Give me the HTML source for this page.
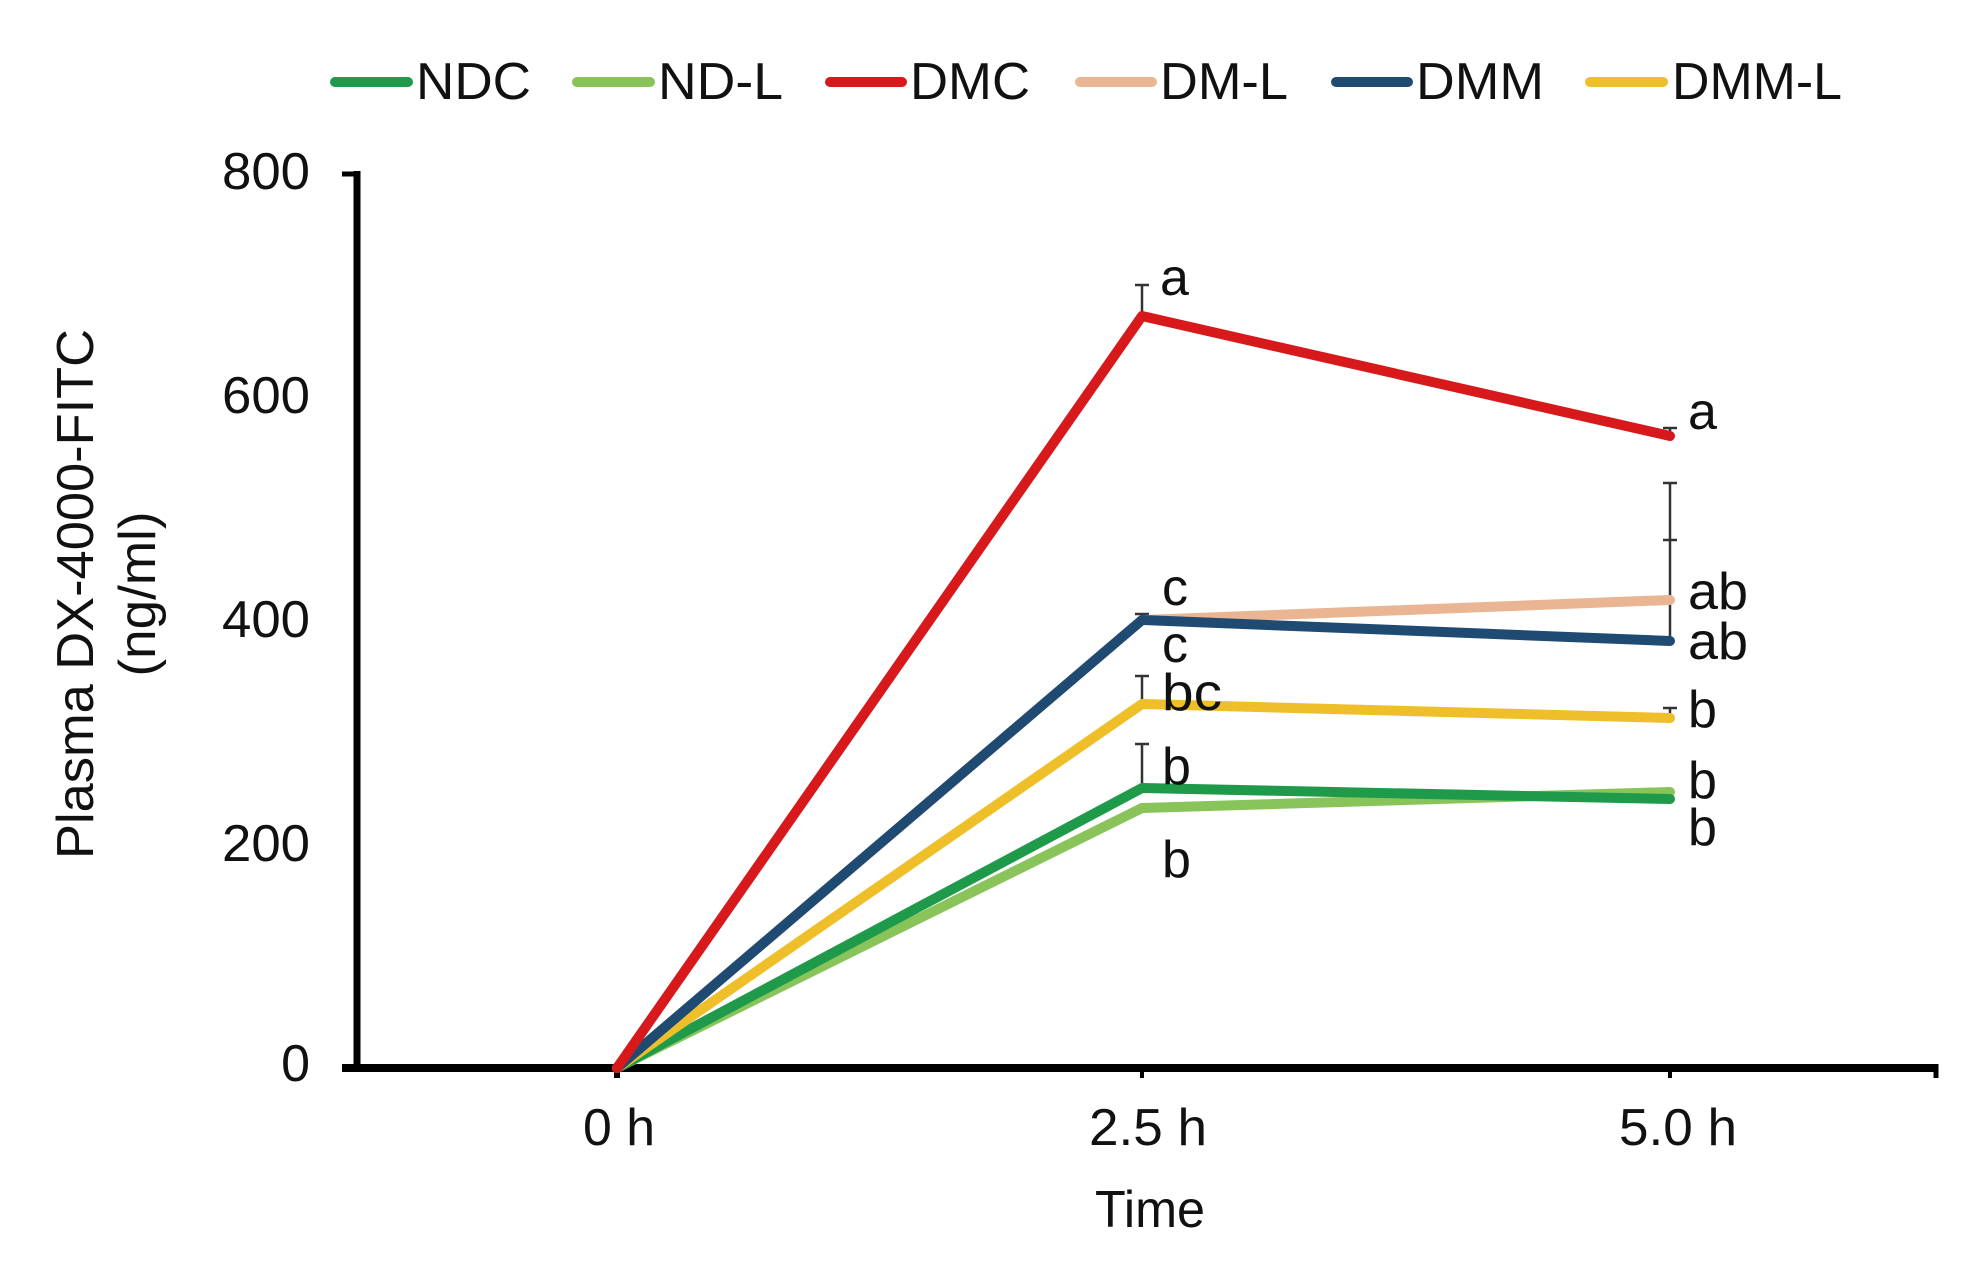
<!DOCTYPE html>
<html><head><meta charset="utf-8"><style>
html,body{margin:0;padding:0;background:#fff;}
svg{display:block;}
text{font-family:"Liberation Sans",Arial,sans-serif;fill:#111;}
</style></head><body>
<svg width="1980" height="1276" viewBox="0 0 1980 1276">
<!-- legend -->
<g stroke-width="10" stroke-linecap="round">
<line x1="335" y1="82" x2="408" y2="82" stroke="#1e9a4a"/>
<line x1="577" y1="82" x2="650" y2="82" stroke="#88c45a"/>
<line x1="830" y1="82" x2="902" y2="82" stroke="#d7191c"/>
<line x1="1080" y1="82" x2="1152" y2="82" stroke="#eab592"/>
<line x1="1336" y1="82" x2="1408" y2="82" stroke="#1f4a72"/>
<line x1="1590" y1="82" x2="1663" y2="82" stroke="#efbf2a"/>
</g>
<g font-size="52" dominant-baseline="central">
<text x="416" y="82" textLength="115" lengthAdjust="spacingAndGlyphs">NDC</text>
<text x="658" y="82" textLength="125" lengthAdjust="spacingAndGlyphs">ND-L</text>
<text x="910" y="82" textLength="120" lengthAdjust="spacingAndGlyphs">DMC</text>
<text x="1160" y="82" textLength="128" lengthAdjust="spacingAndGlyphs">DM-L</text>
<text x="1416" y="82" textLength="128" lengthAdjust="spacingAndGlyphs">DMM</text>
<text x="1672" y="82" textLength="170" lengthAdjust="spacingAndGlyphs">DMM-L</text>
</g>
<!-- axes -->
<g stroke="#000" fill="none">
<line x1="357" y1="171" x2="357" y2="1072" stroke-width="7"/>
<line x1="342" y1="174" x2="360" y2="174" stroke-width="5"/>
<line x1="342" y1="1068" x2="1936" y2="1068" stroke-width="8"/>
<line x1="617" y1="1068" x2="617" y2="1078" stroke-width="6"/>
<line x1="1142" y1="1068" x2="1142" y2="1078" stroke-width="4"/>
<line x1="1670" y1="1068" x2="1670" y2="1078" stroke-width="4"/>
<line x1="1936" y1="1064" x2="1936" y2="1078" stroke-width="5"/>
</g>
<g font-size="52" text-anchor="end" dominant-baseline="central">
<text x="310" y="172" textLength="88" lengthAdjust="spacingAndGlyphs">800</text>
<text x="310" y="396" textLength="88" lengthAdjust="spacingAndGlyphs">600</text>
<text x="310" y="620" textLength="88" lengthAdjust="spacingAndGlyphs">400</text>
<text x="310" y="844" textLength="88" lengthAdjust="spacingAndGlyphs">200</text>
<text x="310" y="1064">0</text>
</g>
<g font-size="52" text-anchor="middle" dominant-baseline="central">
<text x="619" y="1128" textLength="72" lengthAdjust="spacingAndGlyphs">0 h</text>
<text x="1148" y="1128" textLength="118" lengthAdjust="spacingAndGlyphs">2.5 h</text>
<text x="1678" y="1128" textLength="118" lengthAdjust="spacingAndGlyphs">5.0 h</text>
<text x="1150" y="1210" textLength="110" lengthAdjust="spacingAndGlyphs">Time</text>
<text transform="translate(76,594) rotate(-90)" textLength="530" lengthAdjust="spacingAndGlyphs">Plasma DX-4000-FITC</text>
<text transform="translate(138,594) rotate(-90)" textLength="165" lengthAdjust="spacingAndGlyphs">(ng/ml)</text>
</g>
<!-- error bars -->
<g stroke="#333" stroke-width="2.5" fill="none">
<path d="M1142 316V285M1135 285H1149"/>
<path d="M1670 436V428M1663 428H1677"/>
<path d="M1670 641V483M1663 483H1677M1663 540H1677"/>
<path d="M1142 704V676M1135 676H1149"/>
<path d="M1670 718V708M1663 708H1677"/>
<path d="M1142 788V744M1135 744H1149"/>
<path d="M1142 620V614M1135 614H1149"/>
</g>
<!-- series -->
<g fill="none" stroke-width="10" stroke-linejoin="round" stroke-linecap="round">
<polyline points="617,1068 1142,808 1670,792" stroke="#88c45a"/>
<polyline points="617,1068 1142,788 1670,799" stroke="#1e9a4a"/>
<polyline points="617,1068 1142,704 1670,718" stroke="#efbf2a"/>
<polyline points="617,1068 1142,620 1670,600" stroke="#eab592"/>
<polyline points="617,1068 1142,620 1670,641" stroke="#1f4a72"/>
<polyline points="617,1068 1142,316 1670,436" stroke="#d7191c"/>
</g>
<!-- letters -->
<g font-size="52" dominant-baseline="central">
<text x="1160" y="278">a</text>
<text x="1688" y="412">a</text>
<text x="1162" y="588">c</text>
<text x="1162" y="645">c</text>
<text x="1162" y="693" textLength="60" lengthAdjust="spacingAndGlyphs">bc</text>
<text x="1162" y="767">b</text>
<text x="1162" y="860">b</text>
<text x="1688" y="592" textLength="60" lengthAdjust="spacingAndGlyphs">ab</text>
<text x="1688" y="642" textLength="60" lengthAdjust="spacingAndGlyphs">ab</text>
<text x="1688" y="710">b</text>
<text x="1688" y="781">b</text>
<text x="1688" y="828">b</text>
</g>
</svg>
</body></html>
